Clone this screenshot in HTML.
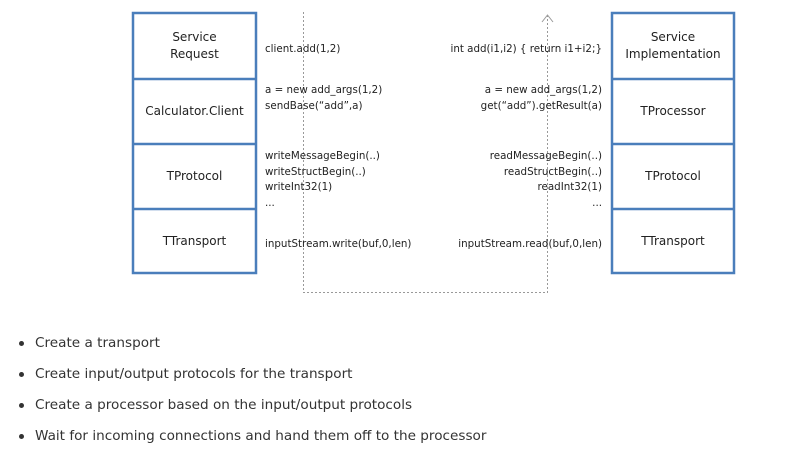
<!DOCTYPE html>
<html><head><style>
body{margin:0;width:805px;height:459px;background:#fff;font-family:"DejaVu Sans","Liberation Sans",sans-serif;position:relative;overflow:hidden}
.t{position:absolute;font-size:10.3px;color:#222;line-height:15.5px;white-space:nowrap}
.r{text-align:right}
.b{position:absolute;font-size:12px;color:#222;text-align:center;line-height:17px;display:flex;align-items:center;justify-content:center}
.li{position:absolute;left:35px;font-size:13.6px;color:#333;white-space:nowrap;line-height:18px}
.d{position:absolute;left:19px;width:5px;height:5px;border-radius:50%;background:#333}
</style></head><body>
<svg width="805" height="300" style="position:absolute;left:0;top:0">
<g fill="none" stroke="#4a7ebb" stroke-width="2.5">
<rect x="133" y="13" width="123" height="260"/>
<line x1="133" y1="79" x2="256" y2="79"/><line x1="133" y1="144" x2="256" y2="144"/><line x1="133" y1="209" x2="256" y2="209"/>
<rect x="612" y="13" width="122" height="260"/>
<line x1="612" y1="79" x2="734" y2="79"/><line x1="612" y1="144" x2="734" y2="144"/><line x1="612" y1="209" x2="734" y2="209"/>
</g>
<path d="M303.5 12 V292.5 H547.5 V16" fill="none" stroke="#999" stroke-width="1" stroke-dasharray="2,2"/>
<path d="M542 22 L547.5 15 L553 22" fill="none" stroke="#999" stroke-width="1"/>
</svg>
<div class="b" style="left:133px;top:13px;width:123px;height:66px">Service<br>Request</div>
<div class="b" style="left:133px;top:79px;width:123px;height:65px">Calculator.Client</div>
<div class="b" style="left:133px;top:144px;width:123px;height:65px">TProtocol</div>
<div class="b" style="left:133px;top:209px;width:123px;height:64px">TTransport</div>
<div class="b" style="left:612px;top:13px;width:122px;height:66px">Service<br>Implementation</div>
<div class="b" style="left:612px;top:79px;width:122px;height:65px">TProcessor</div>
<div class="b" style="left:612px;top:144px;width:122px;height:65px">TProtocol</div>
<div class="b" style="left:612px;top:209px;width:122px;height:64px">TTransport</div>
<div class="t" style="left:265px;top:42px">client.add(1,2)</div>
<div class="t" style="left:265px;top:83px">a = new add_args(1,2)<br>sendBase(“add”,a)</div>
<div class="t" style="left:265px;top:149px">writeMessageBegin(..)<br>writeStructBegin(..)<br>writeInt32(1)<br>...</div>
<div class="t" style="left:265px;top:237px">inputStream.write(buf,0,len)</div>
<div class="t r" style="right:203px;top:42px">int add(i1,i2) { return i1+i2;}</div>
<div class="t r" style="right:203px;top:83px">a = new add_args(1,2)<br>get(“add”).getResult(a)</div>
<div class="t r" style="right:203px;top:149px">readMessageBegin(..)<br>readStructBegin(..)<br>readInt32(1)<br>...</div>
<div class="t r" style="right:203px;top:237px">inputStream.read(buf,0,len)</div>
<div class="d" style="top:341px"></div><div class="li" style="top:334px">Create a transport</div>
<div class="d" style="top:372px"></div><div class="li" style="top:365px">Create input/output protocols for the transport</div>
<div class="d" style="top:403px"></div><div class="li" style="top:396px">Create a processor based on the input/output protocols</div>
<div class="d" style="top:434px"></div><div class="li" style="top:427px">Wait for incoming connections and hand them off to the processor</div>
</body></html>
